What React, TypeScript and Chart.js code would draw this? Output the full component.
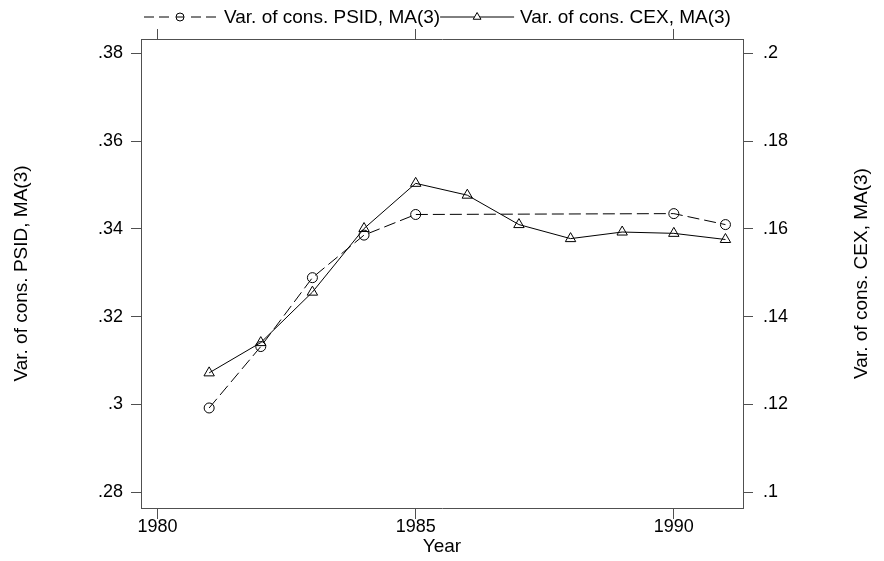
import React, { useEffect, useRef } from 'react';
import { Chart, registerables } from 'chart.js';

Chart.register(...registerables);

// ---- data ----
const YEARS_PSID = [1981, 1982, 1983, 1984, 1985, 1990, 1991];
const PSID_MA3 = [0.2992, 0.3132, 0.3289, 0.3386, 0.3433, 0.3435, 0.341];
const YEARS_CEX = [1981, 1982, 1983, 1984, 1985, 1986, 1987, 1988, 1989, 1990, 1991];
const CEX_MA3 = [0.1272, 0.1341, 0.1456, 0.1601, 0.1704, 0.1677, 0.161, 0.1578, 0.1593, 0.159, 0.1576];
const X_TICKS = [1980, 1985, 1990];
const Y_LEFT_TICKS = [0.28, 0.3, 0.32, 0.34, 0.36, 0.38];
const Y_RIGHT_TICKS = [0.1, 0.12, 0.14, 0.16, 0.18, 0.2];
const X_RANGE = [1979.68, 1991.34];
const Y_LEFT_RANGE = [0.2764, 0.3833];
const Y_RIGHT_RANGE = [0.0964, 0.2033];
const LABEL_PSID = 'Var. of cons. PSID, MA(3)';
const LABEL_CEX = 'Var. of cons. CEX, MA(3)';
const X_TITLE = 'Year';

const FONT = '"Liberation Sans", Arial, Helvetica, sans-serif';
const AXIS_COLOR = '#505050';

const fmt = (v: number) => String(+Number(v).toFixed(4)).replace(/^0\./, '.');

const legendPlugin = {
  id: 'stataLegend',
  afterDraw(chart: any) {
    const ctx = chart.ctx as CanvasRenderingContext2D;
    const area = chart.chartArea;
    const y = 17;
    ctx.save();
    ctx.font = `19px ${FONT}`;
    ctx.fillStyle = '#000';
    ctx.strokeStyle = '#000';
    ctx.lineWidth = 1;
    ctx.textBaseline = 'middle';
    ctx.textAlign = 'left';
    const sw1 = 76, sw2 = 74, gap = 6;
    const w1 = ctx.measureText(LABEL_PSID).width;
    let x = area.left + 1;
    // item 1: dashed line with hollow circle
    const c1 = x + sw1 / 2;
    ctx.setLineDash([4, 7, 10, 5, 10, 5]);
    ctx.beginPath();
    ctx.moveTo(c1, y); ctx.lineTo(x, y);
    ctx.moveTo(c1, y); ctx.lineTo(x + sw1, y);
    ctx.stroke();
    ctx.setLineDash([]);
    ctx.beginPath();
    ctx.arc(c1, y, 4, 0, Math.PI * 2);
    ctx.stroke();
    x += sw1 + gap;
    ctx.fillText(LABEL_PSID, x, y + 1);
    x += w1;
    // item 2: solid line with hollow triangle
    const c2 = x + sw2 / 2;
    ctx.beginPath();
    ctx.moveTo(x, y); ctx.lineTo(x + sw2, y);
    ctx.stroke();
    const r = 4.5;
    ctx.beginPath();
    ctx.moveTo(c2, y - r);
    ctx.lineTo(c2 + r * Math.sin(Math.PI / 3), y + r / 2);
    ctx.lineTo(c2 - r * Math.sin(Math.PI / 3), y + r / 2);
    ctx.closePath();
    ctx.fillStyle = '#fff';
    ctx.fill();
    ctx.stroke();
    ctx.fillStyle = '#000';
    x += sw2 + gap;
    ctx.fillText(LABEL_CEX, x, y + 1);
    ctx.restore();
  },
};

const rightTitlePlugin = {
  id: 'rightTitle',
  afterDraw(chart: any) {
    const ctx = chart.ctx as CanvasRenderingContext2D;
    const s = chart.scales.y1;
    const area = chart.chartArea;
    ctx.save();
    ctx.font = `19px ${FONT}`;
    ctx.fillStyle = '#000';
    ctx.textAlign = 'center';
    ctx.textBaseline = 'middle';
    ctx.translate(s.right - 22, (area.top + area.bottom) / 2);
    ctx.rotate(-Math.PI / 2);
    ctx.fillText(LABEL_CEX, 0, 0);
    ctx.restore();
  },
};

export default function App() {
  const ref = useRef<HTMLCanvasElement | null>(null);

  useEffect(() => {
    if (!ref.current) return;
    const tickFont = { family: FONT, size: 18 };
    const grid = (len: number) => ({
      display: true,
      drawOnChartArea: false,
      drawTicks: true,
      tickLength: len,
      color: AXIS_COLOR,
      tickColor: AXIS_COLOR,
      lineWidth: 1,
    });
    const border = { display: true, color: AXIS_COLOR, width: 1 };

    const chart = new Chart(ref.current, {
      type: 'line',
      data: {
        datasets: [
          {
            label: LABEL_PSID,
            data: YEARS_PSID.map((x, i) => ({ x, y: PSID_MA3[i] })),
            yAxisID: 'y',
            xAxisID: 'x',
            borderColor: '#000',
            borderWidth: 1,
            borderDash: [12, 5],
            pointStyle: 'circle',
            pointRadius: 5,
            pointBorderWidth: 1,
            pointBorderColor: '#000',
            pointBackgroundColor: 'rgba(0,0,0,0)',
            tension: 0,
            fill: false,
          },
          {
            label: LABEL_CEX,
            data: YEARS_CEX.map((x, i) => ({ x, y: CEX_MA3[i] })),
            yAxisID: 'y1',
            xAxisID: 'x',
            borderColor: '#000',
            borderWidth: 1,
            pointStyle: 'triangle',
            pointRadius: 6,
            pointBorderWidth: 1,
            pointBorderColor: '#000',
            pointBackgroundColor: 'rgba(0,0,0,0)',
            tension: 0,
            fill: false,
          },
        ],
      },
      options: {
        responsive: false,
        animation: false,
        devicePixelRatio: 1,
        layout: { padding: 0 },
        plugins: { legend: { display: false }, tooltip: { enabled: false } },
        scales: {
          x: {
            type: 'linear',
            position: 'bottom',
            min: X_RANGE[0],
            max: X_RANGE[1],
            afterBuildTicks: (s: any) => { s.ticks = X_TICKS.map((v) => ({ value: v })); },
            ticks: { font: tickFont, color: '#000', padding: -3, maxRotation: 0, autoSkip: false, callback: (v: any) => String(v) },
            grid: grid(11),
            border,
            title: { display: true, text: X_TITLE, color: '#000', font: { family: FONT, size: 19 }, padding: { top: 0, bottom: 3 } },
            afterFit: (s: any) => { s.height = 53; },
          },
          x2: {
            type: 'linear',
            position: 'top',
            min: X_RANGE[0],
            max: X_RANGE[1],
            afterBuildTicks: (s: any) => { s.ticks = X_TICKS.map((v) => ({ value: v })); },
            ticks: { display: false },
            grid: grid(10),
            border,
            afterFit: (s: any) => { s.height = 39; },
          },
          y: {
            type: 'linear',
            position: 'left',
            min: Y_LEFT_RANGE[0],
            max: Y_LEFT_RANGE[1],
            afterBuildTicks: (s: any) => { s.ticks = Y_LEFT_TICKS.map((v) => ({ value: v })); },
            ticks: { font: tickFont, color: '#000', padding: 8, callback: (v: any) => fmt(v) },
            grid: grid(10),
            border,
            title: { display: true, text: LABEL_PSID, color: '#000', font: { family: FONT, size: 19 }, padding: { top: 10, bottom: 0 } },
            afterFit: (s: any) => { s.width = 141; },
          },
          y1: {
            type: 'linear',
            position: 'right',
            min: Y_RIGHT_RANGE[0],
            max: Y_RIGHT_RANGE[1],
            afterBuildTicks: (s: any) => { s.ticks = Y_RIGHT_TICKS.map((v) => ({ value: v })); },
            ticks: { font: tickFont, color: '#000', padding: 10, callback: (v: any) => fmt(v) },
            grid: grid(10),
            border,
            afterFit: (s: any) => { s.width = 141; },
          },
        },
      },
      plugins: [legendPlugin, rightTitlePlugin],
    } as any);

    return () => chart.destroy();
  }, []);

  return (
    <div style={{ position: 'absolute', left: 0, top: 0, width: 884, height: 561, background: '#fff' }}>
      <canvas ref={ref} width={884} height={561} style={{ display: 'block' }} />
    </div>
  );
}
